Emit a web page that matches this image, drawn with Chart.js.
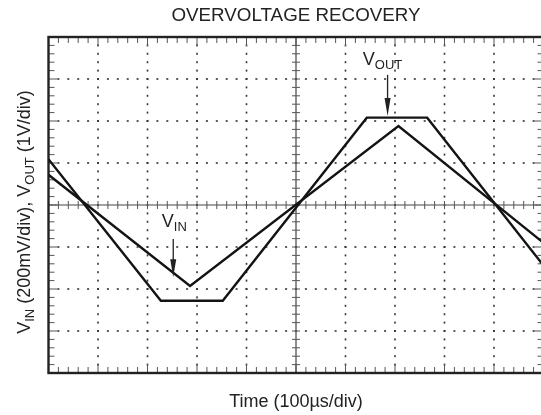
<!DOCTYPE html>
<html>
<head>
<meta charset="utf-8">
<script src="https://cdn.jsdelivr.net/npm/chart.js@4.4.1/dist/chart.umd.min.js"></script>
<style>
  html, body { margin: 0; padding: 0; background: #fff; overflow: hidden; }
  #scope { display: block; }
</style>
</head>
<body>
<canvas id="scope" width="545" height="415"></canvas>
<script>
// time in divisions (100us/div), amplitude in divisions
const timeVin = [0, 2.86, 7.07, 10];
const vin = [0.72, -1.93, 1.88, -0.90];

const timeVout = [0, 2.27, 3.52, 6.43, 7.65, 10];
const vout = [1.09, -2.28, -2.28, 2.08, 2.08, -1.44];

const xDivs = [0, 1, 2, 3, 4, 5, 6, 7, 8, 9, 10];
const yDivs = [-4, -3, -2, -1, 0, 1, 2, 3, 4];

const FONT = '"Liberation Sans", Arial, Helvetica, sans-serif';

function pts(xs, ys) {
    return xs.map((t, i) => ({ x: t, y: ys[i] }));
}

// draws text with subscripts, parts = [[text, isSub], ...]
function drawParts(ctx, parts, x, y, size, subSize, align) {
    let total = 0;
    parts.forEach(p => {
        ctx.font = (p[1] ? subSize : size) + 'px ' + FONT;
        total += ctx.measureText(p[0]).width;
    });
    let cx = align === 'center' ? x - total / 2 : x;
    parts.forEach(p => {
        ctx.font = (p[1] ? subSize : size) + 'px ' + FONT;
        ctx.fillText(p[0], cx, p[1] ? y + 4 : y);
        cx += ctx.measureText(p[0]).width;
    });
}

function arrow(ctx, px, y1, y2) {
    ctx.beginPath();
    ctx.moveTo(px, y1);
    ctx.lineTo(px, y2 - 16);
    ctx.stroke();
    ctx.beginPath();
    ctx.moveTo(px - 3, y2 - 18);
    ctx.lineTo(px + 3, y2 - 18);
    ctx.lineTo(px, y2);
    ctx.closePath();
    ctx.fill();
}

const scopeGrid = {
    id: 'scopeGrid',
    beforeDatasetsDraw(chart) {
        const { ctx, chartArea: a, scales: { x, y } } = chart;
        ctx.save();

        // dotted graticule
        ctx.fillStyle = '#333';
        xDivs.forEach(d => {
            if (d === 0 || d === 5 || d === 10) return;
            const px = x.getPixelForValue(d);
            for (let k = 1; k < 40; k++) {
                const py = y.getPixelForValue(-4 + k * 0.2);
                ctx.fillRect(px - 0.8, py - 1, 1.6, 2);
            }
        });
        yDivs.forEach(d => {
            if (d === -4 || d === 0 || d === 4) return;
            const py = y.getPixelForValue(d);
            for (let k = 1; k < 50; k++) {
                const px = x.getPixelForValue(k * 0.2);
                ctx.fillRect(px - 1, py - 0.8, 2, 1.6);
            }
        });

        // centre axes with minor ticks
        const cx = x.getPixelForValue(5);
        const cy = y.getPixelForValue(0);
        ctx.strokeStyle = '#444';
        ctx.lineWidth = 1.2;
        ctx.beginPath();
        ctx.moveTo(a.left, cy); ctx.lineTo(a.right, cy);
        ctx.moveTo(cx, a.top); ctx.lineTo(cx, a.bottom);
        ctx.stroke();

        ctx.lineWidth = 1;
        ctx.strokeStyle = '#555';
        ctx.beginPath();
        for (let k = 1; k < 50; k++) {
            const px = x.getPixelForValue(k * 0.2);
            ctx.moveTo(px, cy - 4); ctx.lineTo(px, cy + 4);
            const big = k % 5 === 0 ? 9 : 6;
            ctx.moveTo(px, a.top); ctx.lineTo(px, a.top + big);
            ctx.moveTo(px, a.bottom); ctx.lineTo(px, a.bottom - big);
        }
        for (let k = 1; k < 40; k++) {
            const py = y.getPixelForValue(-4 + k * 0.2);
            ctx.moveTo(cx - 4, py); ctx.lineTo(cx + 4, py);
            const big = k % 5 === 0 ? 9 : 6;
            ctx.moveTo(a.left, py); ctx.lineTo(a.left + big, py);
            ctx.moveTo(a.right, py); ctx.lineTo(a.right - big, py);
        }
        ctx.stroke();

        // frame
        ctx.strokeStyle = '#222';
        ctx.lineWidth = 2.4;
        ctx.strokeRect(a.left, a.top, a.right - a.left, a.bottom - a.top);
        ctx.restore();
    },
    afterDraw(chart) {
        const { ctx, chartArea: a, scales: { x, y } } = chart;
        ctx.save();
        ctx.fillStyle = '#222';
        ctx.strokeStyle = '#222';
        ctx.lineWidth = 1.3;
        ctx.textBaseline = 'alphabetic';
        ctx.textAlign = 'left';

        const mid = x.getPixelForValue(5);
        drawParts(ctx, [['OVERVOLTAGE RECOVERY', false]], mid, 20.5, 18.8, 13, 'center');
        drawParts(ctx, [['Time (100\u00b5s/div)', false]], mid, 407, 18, 13, 'center');

        // y axis title, rotated
        ctx.save();
        ctx.translate(30, 212);
        ctx.rotate(-Math.PI / 2);
        drawParts(ctx, [['V', false], ['IN', true], [' (200mV/div), V', false], ['OUT', true], [' (1V/div)', false]],
            0, 0, 18, 13, 'center');
        ctx.restore();

        // trace labels
        drawParts(ctx, [['V', false], ['OUT', true]], x.getPixelForValue(6.35), y.getPixelForValue(3.33), 18, 13, 'left');
        arrow(ctx, x.getPixelForValue(6.85), y.getPixelForValue(3.1), y.getPixelForValue(2.12));
        drawParts(ctx, [['V', false], ['IN', true]], x.getPixelForValue(2.29), y.getPixelForValue(-0.52), 18, 13, 'left');
        arrow(ctx, x.getPixelForValue(2.52), y.getPixelForValue(-0.81), y.getPixelForValue(-1.72));
        ctx.restore();
    }
};

const chart = new Chart(document.getElementById('scope').getContext('2d'), {
    type: 'line',
    data: {
        datasets: [
            {
                label: 'VIN',
                data: pts(timeVin, vin),
                borderColor: '#141414',
                borderWidth: 2.4,
                pointRadius: 0,
                tension: 0
            },
            {
                label: 'VOUT',
                data: pts(timeVout, vout),
                borderColor: '#141414',
                borderWidth: 2.4,
                pointRadius: 0,
                tension: 0
            }
        ]
    },
    options: {
        responsive: false,
        animation: false,
        devicePixelRatio: 1,
        layout: { padding: { left: 48.5, right: 1.5, top: 37, bottom: 42 } },
        plugins: {
            legend: { display: false },
            tooltip: { enabled: false }
        },
        scales: {
            x: { type: 'linear', min: 0, max: 10, display: false },
            y: { type: 'linear', min: -4, max: 4, display: false }
        }
    },
    plugins: [scopeGrid]
});
</script>
</body>
</html>
